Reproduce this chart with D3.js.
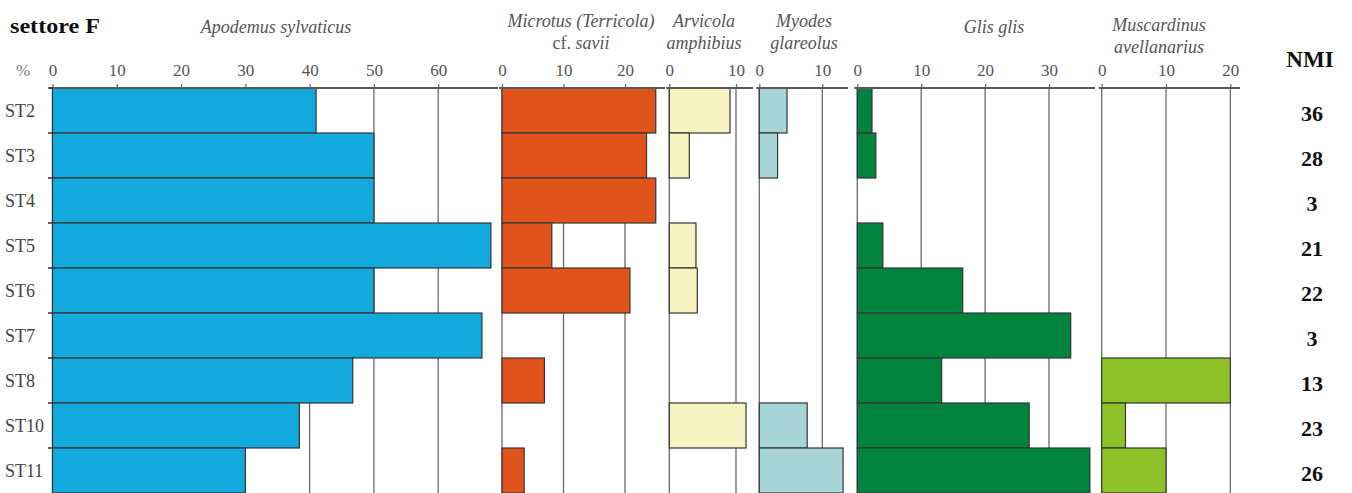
<!DOCTYPE html>
<html>
<head>
<meta charset="utf-8">
<script src="https://cdn.jsdelivr.net/npm/d3@7"></script>
<style>
  html, body { margin: 0; padding: 0; background: #fff; }
  svg { display: block; }
  text { font-family: "Liberation Serif", "Times New Roman", serif; }
</style>
</head>
<body>
<svg id="chart" width="1352" height="493"></svg>
<script>
// Sampling stations (rows, top to bottom)
const categories = ["ST2", "ST3", "ST4", "ST5", "ST6", "ST7", "ST8", "ST10", "ST11"];

// Percentage of each taxon per station
const apodemus    = [41, 50, 50, 68.2, 50, 66.8, 46.7, 38.4, 30];
const microtus    = [25, 23.5, 25, 8.1, 20.8, 0, 6.9, 0, 3.6];
const arvicola    = [9.1, 3, 0, 4, 4.2, 0, 0, 11.5, 0];
const myodes      = [4.4, 2.9, 0, 0, 0, 0, 0, 7.6, 13.3];
const glis        = [2.3, 2.9, 0, 4, 16.5, 33.4, 13.2, 26.9, 36.4];
const muscardinus = [0, 0, 0, 0, 0, 0, 20, 3.7, 10];

// Minimum number of individuals per station
const nmi = [36, 28, 3, 21, 22, 3, 13, 23, 26];

// Axis tick values for each panel
const ticksApodemus    = [0, 10, 20, 30, 40, 50, 60];
const ticksMicrotus    = [0, 10, 20];
const ticksArvicola    = [0, 10];
const ticksMyodes      = [0, 10];
const ticksGlis        = [0, 10, 20, 30];
const ticksMuscardinus = [0, 10, 20];

// Panel layout: horizontal pixel extent and the value reached at its right end
const panels = [
  { values: apodemus,    ticks: ticksApodemus,    max: 69.3,  x0: 52.5,   x1: 498,  color: "#12a9dc" },
  { values: microtus,    ticks: ticksMicrotus,    max: 26.5,  x0: 502,    x1: 665,  color: "#e0541c" },
  { values: arvicola,    ticks: ticksArvicola,    max: 12.55, x0: 669.3,  x1: 753,  color: "#f7f4c2" },
  { values: myodes,      ticks: ticksMyodes,      max: 14.08, x0: 759.3,  x1: 848,  color: "#a8d5d8" },
  { values: glis,        ticks: ticksGlis,        max: 37.2,  x0: 857.3,  x1: 1095, color: "#00843d" },
  { values: muscardinus, ticks: ticksMuscardinus, max: 21.5,  x0: 1101.7, x1: 1240, color: "#8cc228" }
];

const svg = d3.select("#chart");
const plotTop = 88, plotBottom = 493;

const y = d3.scaleBand().domain(categories).range([plotTop, plotBottom]).padding(0);

const gridColor = "#6a6a6a";
const labelColor = "#555";

panels.forEach(p => {
  const x = d3.scaleLinear().domain([0, p.max]).range([p.x0, p.x1]);
  const g = svg.append("g");

  // vertical grid lines at every tick
  g.selectAll("line.grid")
    .data(p.ticks)
    .join("line")
    .attr("class", "grid")
    .attr("x1", d => x(d)).attr("x2", d => x(d))
    .attr("y1", plotTop).attr("y2", plotBottom)
    .attr("stroke", gridColor)
    .attr("stroke-width", 1.3);

  // bars
  g.selectAll("rect.bar")
    .data(categories.map((c, i) => ({ c, v: p.values[i] })).filter(d => d.v > 0))
    .join("rect")
    .attr("class", "bar")
    .attr("x", x(0))
    .attr("y", d => y(d.c))
    .attr("width", d => x(d.v) - x(0))
    .attr("height", y.bandwidth())
    .attr("fill", p.color)
    .attr("stroke", "#353535")
    .attr("stroke-width", 1.2);

  // top axis with tick labels
  const axis = d3.axisTop(x).tickValues(p.ticks).tickSize(4).tickPadding(8).tickFormat(d3.format("d"));
  const ag = g.append("g").attr("transform", `translate(0,${plotTop})`).call(axis);
  ag.select(".domain").remove();
  ag.selectAll(".tick line").attr("stroke", gridColor).attr("stroke-width", 1.3);
  ag.selectAll(".tick text")
    .attr("fill", labelColor)
    .style("font-size", "17px")
    .style("font-family", "'Liberation Serif', serif");
  ag.append("line")
    .attr("x1", p.x0 - 3).attr("x2", p.x1)
    .attr("y1", 0).attr("y2", 0)
    .attr("stroke", "#5a5a5a")
    .attr("stroke-width", 2);
});

// station labels and band boundary ticks on the left
const yAxis = svg.append("g");
yAxis.selectAll("text")
  .data(categories)
  .join("text")
  .attr("x", 5)
  .attr("y", d => y(d) + y.bandwidth() / 2)
  .attr("dy", "0.35em")
  .attr("fill", "#444")
  .style("font-size", "18px")
  .text(d => d);
yAxis.selectAll("line")
  .data(categories)
  .join("line")
  .attr("x1", 48).attr("x2", 53)
  .attr("y1", d => y(d)).attr("y2", d => y(d))
  .attr("stroke", "#333")
  .attr("stroke-width", 1.5);

// NMI column
svg.append("text")
  .attr("x", 1310).attr("y", 67)
  .attr("text-anchor", "middle")
  .style("font-size", "23px").style("font-weight", "bold")
  .attr("fill", "#111")
  .text("NMI");
svg.append("g").selectAll("text")
  .data(categories.map((c, i) => ({ c, v: nmi[i] })))
  .join("text")
  .attr("x", 1312)
  .attr("y", d => y(d.c) + y.bandwidth() / 2 + 3)
  .attr("dy", "0.35em")
  .attr("text-anchor", "middle")
  .style("font-size", "22px").style("font-weight", "bold")
  .attr("fill", "#111")
  .text(d => d.v);

// sector title and percentage marker
svg.append("text")
  .attr("x", 10).attr("y", 33)
  .attr("textLength", 90)
  .attr("lengthAdjust", "spacingAndGlyphs")
  .style("font-size", "22px").style("font-weight", "bold")
  .attr("fill", "#111")
  .text("settore F");
svg.append("text")
  .attr("x", 16).attr("y", 76)
  .style("font-size", "17px")
  .attr("fill", "#777")
  .text("%");

// taxon headings
const headings = [
  { cx: 276,  lines: [[{ t: "Apodemus sylvaticus", it: true }]], y0: 33 },
  { cx: 581,  lines: [[{ t: "Microtus (Terricola)", it: true }], [{ t: "cf. ", it: false }, { t: "savii", it: true }]], y0: 27 },
  { cx: 704,  lines: [[{ t: "Arvicola", it: true }], [{ t: "amphibius", it: true }]], y0: 27 },
  { cx: 804,  lines: [[{ t: "Myodes", it: true }], [{ t: "glareolus", it: true }]], y0: 27 },
  { cx: 994,  lines: [[{ t: "Glis glis", it: true }]], y0: 33 },
  { cx: 1159, lines: [[{ t: "Muscardinus", it: true }], [{ t: "avellanarius", it: true }]], y0: 31 }
];
headings.forEach(h => {
  h.lines.forEach((parts, li) => {
    const t = svg.append("text")
      .attr("x", h.cx)
      .attr("y", h.y0 + li * 22)
      .attr("text-anchor", "middle")
      .attr("fill", "#555")
      .style("font-size", "18px");
    parts.forEach(pt => {
      t.append("tspan")
        .style("font-style", pt.it ? "italic" : "normal")
        .text(pt.t);
    });
  });
});
</script>
</body>
</html>
